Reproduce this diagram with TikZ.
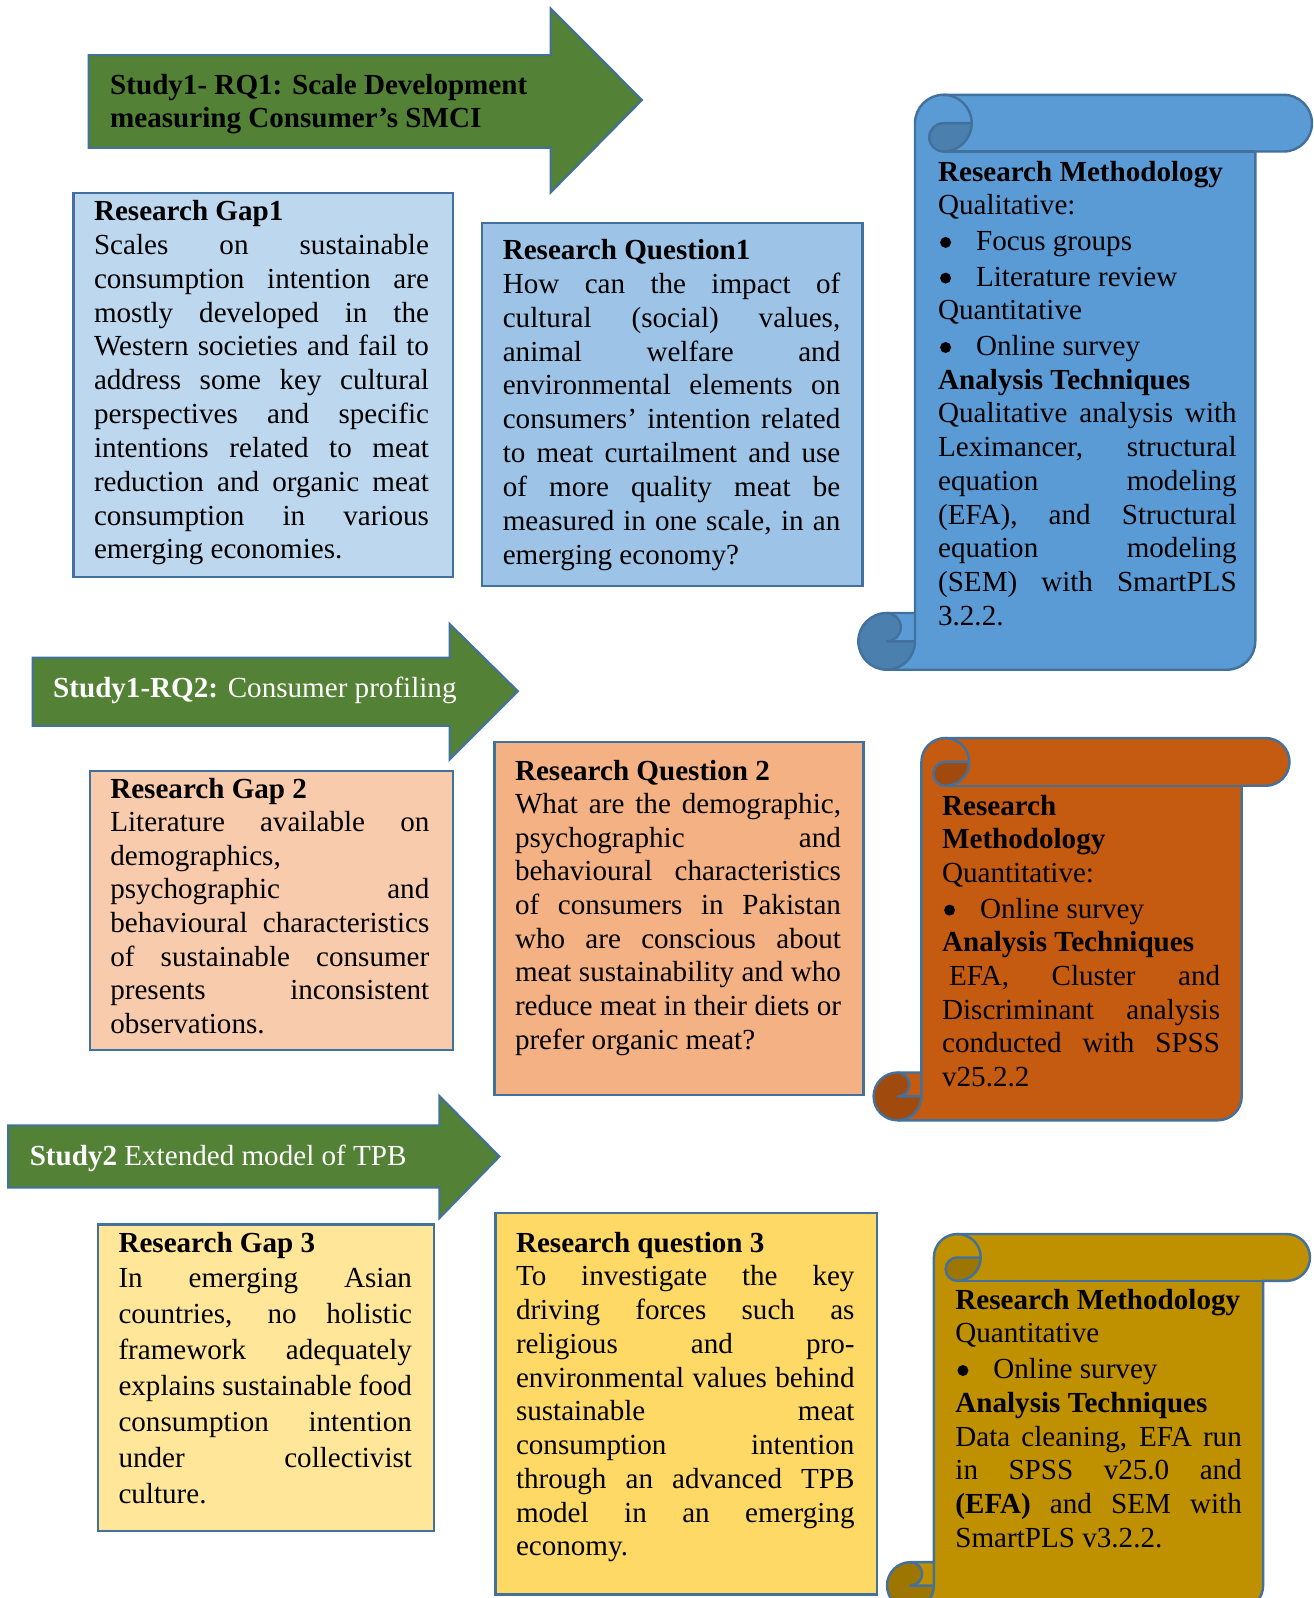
\documentclass[tikz,border=0pt]{standalone}
\usepackage{fontspec}
\setmainfont{Liberation Serif}

\definecolor{edge}{HTML}{41719C}
\definecolor{arrowgreen}{HTML}{538135}
\definecolor{gapblue}{HTML}{BDD7EE}
\definecolor{qblue}{HTML}{9DC3E6}
\definecolor{gaporange}{HTML}{F8CBAD}
\definecolor{qorange}{HTML}{F4B183}
\definecolor{gapyellow}{HTML}{FFE699}
\definecolor{qyellow}{HTML}{FFD966}
\definecolor{scrollblue}{HTML}{5B9BD5}
\definecolor{scrollblueD}{HTML}{4A7FAE}
\definecolor{scrollorange}{HTML}{C55A11}
\definecolor{scrollorangeD}{HTML}{A14A0E}
\definecolor{scrollgold}{HTML}{BF9000}
\definecolor{scrollgoldD}{HTML}{9C7600}

% justified text block: width, line pitch, content
\newcommand{\blk}[3]{\parbox[t]{#1}{\fontsize{29.1}{#2}\selectfont
  \tolerance=10000\hyphenpenalty=10000\relax #3}}
% list bullet: a filled dot followed by the hanging indent
\newcommand{\blt}{\makebox[38pt][l]{\hspace{2pt}\tikz[baseline=0pt]\fill (5.5pt,8pt) circle[radius=5.5pt];}}

% vertical scroll: left, top, right, bottom, fill, shade
\newcommand{\vscroll}[6]{%
  \pgfmathsetmacro{\svL}{#1}\pgfmathsetmacro{\svT}{#2}%
  \pgfmathsetmacro{\svR}{#3}\pgfmathsetmacro{\svB}{#4}%
  \pgfmathsetmacro{\svC}{0.125*min(#3-#1,#4-#2)}%
  \pgfmathsetmacro{\svH}{\svC/2}\pgfmathsetmacro{\svQ}{\svC/4}%
  \pgfmathsetmacro{\svxA}{\svL+\svC}\pgfmathsetmacro{\svxC}{\svL+\svH}%
  \pgfmathsetmacro{\svxT}{\svL+1.5*\svC}\pgfmathsetmacro{\svxF}{\svL+2*\svC}%
  \pgfmathsetmacro{\svxS}{\svR-\svC}\pgfmathsetmacro{\svxE}{\svR-\svH}%
  \pgfmathsetmacro{\svyH}{\svT+\svH}\pgfmathsetmacro{\svyC}{\svT+\svC}%
  \pgfmathsetmacro{\svyT}{\svB-\svC}\pgfmathsetmacro{\svyF}{\svB-\svH}%
  % sheet
  \path[fill=#5] (\svxA,\svyT) -- (\svxA,\svyH)
    arc[start angle=180,end angle=270,radius=\svH] -- (\svxE,\svT)
    arc[start angle=270,end angle=450,radius=\svH] -- (\svxS,\svyC) -- (\svxS,\svyF)
    arc[start angle=0,end angle=90,radius=\svH] -- (\svxC,\svB)
    arc[start angle=90,end angle=270,radius=\svH] -- cycle;
  % shaded insides of the two rolls
  \path[fill=#6] (\svxF,\svyH) arc[start angle=0,end angle=90,radius=\svH]
    arc[start angle=90,end angle=270,radius=\svQ] -- cycle;
  \path[fill=#6] (\svxA,\svyF) arc[start angle=0,end angle=270,radius=\svH]
    arc[start angle=270,end angle=450,radius=\svQ] -- cycle;
  % outlines
  \path[scrolledge] (\svxA,\svyT) -- (\svxA,\svyH)
    arc[start angle=180,end angle=270,radius=\svH] -- (\svxE,\svT)
    arc[start angle=270,end angle=450,radius=\svH] -- (\svxS,\svyC) -- (\svxS,\svyF)
    arc[start angle=0,end angle=90,radius=\svH] -- (\svxC,\svB)
    arc[start angle=90,end angle=270,radius=\svH] -- cycle;
  \path[scrolledge] (\svxT,\svT) arc[start angle=270,end angle=450,radius=\svH]
    arc[start angle=90,end angle=270,radius=\svQ] -- (\svxF,\svyH);
  \path[scrolledge] (\svxS,\svyC) -- (\svxT,\svyC);
  \path[scrolledge] (\svxC,\svyT) arc[start angle=270,end angle=450,radius=\svQ] -- (\svxA,\svyF);
  \path[scrolledge] (\svxC,\svB) arc[start angle=90,end angle=0,radius=\svH] -- (\svxA,\svyT);
}

\begin{document}
\begin{tikzpicture}[x=1pt,y=-1pt,
  boxframe/.style={draw=edge,line width=2.2pt,inner sep=0pt,anchor=north west},
  studyarrow/.style={fill=arrowgreen,draw=edge,line width=2pt,line join=miter},
  scrolledge/.style={draw=edge,line width=2.4pt,line join=round},
  txt/.style={anchor=base west,inner sep=0pt,font=\fontsize{29.1}{33.7}\selectfont}]

\clip (0,0) rectangle (1314,1598);
\fill[white] (0,0) rectangle (1314,1598);

% ---------- study arrows ----------
\draw[studyarrow] (88.7,55) -- (550.5,55) -- (550.5,8.2) -- (642,100) -- (550.5,192.7)
  -- (550.5,147.8) -- (88.7,147.8) -- cycle;
\node[txt] (s1rq1) at (110,94) {\parbox[t]{440pt}{\fontsize{29.1}{33.8}\selectfont
  \textbf{Study1- RQ1: Scale Development}\\\textbf{measuring Consumer’s SMCI}}};

\draw[studyarrow] (32.6,657.5) -- (449.6,657.5) -- (449.6,623.9) -- (517.9,691.2)
  -- (449.6,759.5) -- (449.6,725.8) -- (32.6,725.8) -- cycle;
\node[txt,text=white] (s1rq2) at (53,697) {\textbf{Study1-RQ2:} Consumer profiling};

\draw[studyarrow] (8.2,1125.4) -- (439.4,1125.4) -- (439.4,1095.9) -- (499.5,1156.5)
  -- (439.4,1218.2) -- (439.4,1187.6) -- (8.2,1187.6) -- cycle;
\node[txt,text=white] (s2) at (29.6,1165) {\textbf{Study2} Extended model of TPB};

% ---------- research gap / question boxes ----------
\node[boxframe,fill=gapblue,minimum width=379.2pt,minimum height=384.4pt] (gap1) at (72.4,191.6) {};
\node[boxframe,fill=qblue,minimum width=380.2pt,minimum height=362.9pt] (q1) at (481.2,222.2) {};
\node[boxframe,fill=gaporange,minimum width=362.9pt,minimum height=279.4pt] (gap2) at (88.7,769.6) {};
\node[boxframe,fill=qorange,minimum width=369pt,minimum height=352.7pt] (q2) at (493.4,741.1) {};
\node[boxframe,fill=gapyellow,minimum width=336.4pt,minimum height=306.8pt] (gap3) at (96.8,1223.3) {};
\node[boxframe,fill=qyellow,minimum width=381.3pt,minimum height=381.3pt] (q3) at (494.4,1212) {};

\node[txt] (gap1text) at (93.8,220.5) {\blk{335pt}{33.84}{%
\textbf{Research Gap1}\\
Scales on sustainable\linebreak
consumption intention are\linebreak
mostly developed in the\linebreak
Western societies and fail to\linebreak
address some key cultural\linebreak
perspectives and specific\linebreak
intentions related to meat\linebreak
reduction and organic meat\linebreak
consumption in various\linebreak
emerging economies.}};

\node[txt] (q1text) at (502.6,259.5) {\blk{337.5pt}{33.87}{%
\textbf{Research Question1}\\
How can the impact of\linebreak
cultural (social) values,\linebreak
animal welfare and\linebreak
environmental elements on\linebreak
consumers’ intention related\linebreak
to meat curtailment and use\linebreak
of more quality meat be\linebreak
measured in one scale, in an\linebreak
emerging economy?}};

\node[txt] (gap2text) at (110.1,798) {\blk{319pt}{33.64}{%
\textbf{Research Gap 2}\\
Literature available on\linebreak
demographics,\\
psychographic and\linebreak
behavioural characteristics\linebreak
of sustainable consumer\linebreak
presents inconsistent\linebreak
observations.}};

\node[txt] (q2text) at (514.8,780) {\blk{326pt}{33.64}{%
\textbf{Research Question 2}\\
What are the demographic,\linebreak
psychographic and\linebreak
behavioural characteristics\linebreak
of consumers in Pakistan\linebreak
who are conscious about\linebreak
meat sustainability and who\linebreak
reduce meat in their diets or\linebreak
prefer organic meat?}};

\node[txt] (gap3text) at (118.3,1252) {\blk{293.5pt}{35.97}{%
\textbf{Research Gap 3}\\
In emerging Asian\linebreak
countries, no holistic\linebreak
framework adequately\linebreak
explains sustainable food\linebreak
consumption intention\linebreak
under collectivist\linebreak
culture.}};

\node[txt] (q3text) at (515.8,1252) {\blk{338.5pt}{33.75}{%
\textbf{Research question 3}\\
To investigate the key\linebreak
driving forces such as\linebreak
religious and pro-\linebreak
environmental values behind\linebreak
sustainable meat\linebreak
consumption intention\linebreak
through an advanced TPB\linebreak
model in an emerging\linebreak
economy.}};

% ---------- methodology scrolls ----------
\vscroll{858.3}{94.8}{1312}{669.7}{scrollblue}{scrollblueD}
\node[txt] (method1) at (937.9,181) {\blk{298.6pt}{33.7}{%
\textbf{Research Methodology}\\
Qualitative:\\[2pt]
\blt Focus groups\\[2pt]
\blt Literature review\\
Quantitative\\[2pt]
\blt Online survey\\
\textbf{Analysis Techniques}\\
Qualitative analysis with\linebreak
Leximancer, structural\linebreak
equation modeling\linebreak
(EFA), and Structural\linebreak
equation modeling\linebreak
(SEM) with SmartPLS\linebreak
3.2.2.}};

\vscroll{873.6}{738}{1289.5}{1120.3}{scrollorange}{scrollorangeD}
\node[txt] (method2) at (941.9,815) {\blk{278pt}{33.7}{%
\textbf{Research}\\
\textbf{Methodology}\\
Quantitative:\\[2pt]
\blt Online survey\\
\textbf{Analysis Techniques}\\
\hspace*{7pt}EFA, Cluster and\linebreak
Discriminant analysis\linebreak
conducted with SPSS\linebreak
v25.2.2}};

\vscroll{887}{1234}{1310}{1609}{scrollgold}{scrollgoldD}
\node[txt] (method3) at (955.2,1309) {\blk{286.4pt}{33.75}{%
\textbf{Research Methodology}\\
Quantitative\\[2pt]
\blt Online survey\\
\textbf{Analysis Techniques}\\
Data cleaning, EFA run\linebreak
in SPSS v25.0 and\linebreak
\textbf{(EFA)} and SEM with\linebreak
SmartPLS v3.2.2.}};

\end{tikzpicture}
\end{document}
